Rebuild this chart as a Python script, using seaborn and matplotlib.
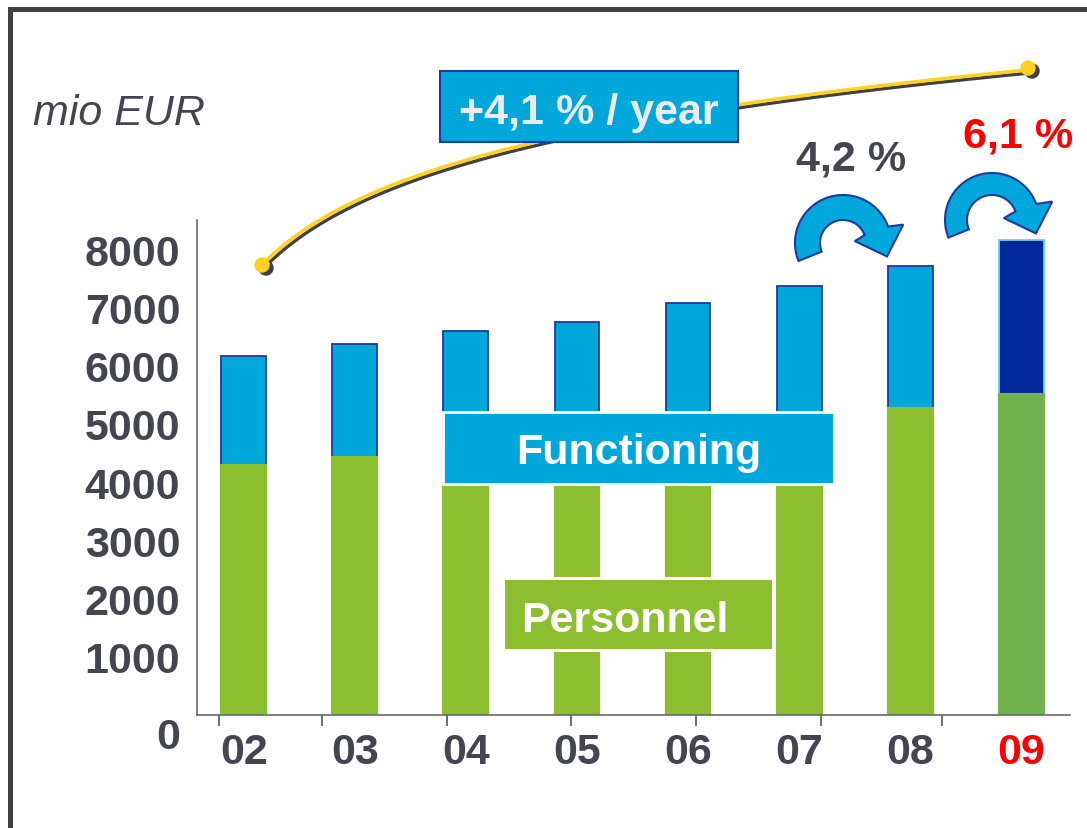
import numpy as np
import pandas as pd
import matplotlib
matplotlib.use("Agg")
import matplotlib.pyplot as plt
import seaborn as sns
from matplotlib.patches import Rectangle, Polygon, Circle
from matplotlib.transforms import ScaledTranslation

# ---------------- data ----------------
years = ["02", "03", "04", "05", "06", "07", "08", "09"]
total = [6160, 6370, 6590, 6750, 7070, 7370, 7710, 8160]
personnel = [4290, 4430, 4600, 4750, 4900, 5050, 5270, 5510]
y_ticks = [0, 1000, 2000, 3000, 4000, 5000, 6000, 7000, 8000]
unit_label = "mio EUR"
trend_label = "+4,1 % / year"
step_labels = ["4,2 %", "6,1 %"]
series_labels = ["Functioning", "Personnel"]

# ---------------- style ----------------
BLUE = "#00A7DB"
DARK_BLUE = "#00289A"
EDGE_BLUE = "#1E3A9E"
GREEN = "#8CBF2F"
GREEN_09 = "#71B24E"
GREY = "#45454F"
RED = "#FF0000"
FS = 31

sns.set_theme(style="white")
plt.rcParams['font.family'] = ['Liberation Sans', 'DejaVu Sans']

fig = plt.figure(figsize=(10.87, 8.29), dpi=100)
ax = fig.add_axes([0.1812, 0.1363, 0.8031, 0.597])

df = pd.DataFrame({"year": years, "total": total, "personnel": personnel})
blue_pal = {y: BLUE for y in years}
blue_pal[years[-1]] = DARK_BLUE
green_pal = {y: GREEN for y in years}
green_pal[years[-1]] = GREEN_09

sns.barplot(data=df, x="year", y="total", hue="year", palette=blue_pal,
            width=0.405, legend=False, ax=ax, saturation=1,
            edgecolor=EDGE_BLUE, linewidth=1.3)
sns.barplot(data=df, x="year", y="personnel", hue="year", palette=green_pal,
            width=0.405, legend=False, ax=ax, saturation=1, linewidth=1.6)

# green segments: edge same as fill so the blue outline does not show
for cont in ax.containers[len(years):]:
    for p in cont.patches:
        p.set_edgecolor(p.get_facecolor())
# last blue bar has a light edge
ax.containers[len(years) - 1].patches[0].set_edgecolor("#6CCBEF")

ax.set_xlim(-0.423, 7.44)
ax.set_ylim(0, 8500)
ax.set_xlabel("")
ax.set_ylabel("")
for s in ["top", "right"]:
    ax.spines[s].set_visible(False)
for s in ["left", "bottom"]:
    ax.spines[s].set_color("#6A6A6A")
    ax.spines[s].set_linewidth(1.2)

ax.set_yticks(y_ticks)
ax.set_yticklabels([str(v) for v in y_ticks], fontsize=FS, fontweight="bold", color=GREY)
ax.tick_params(axis="y", length=0, pad=12, left=False)
ylabels = ax.get_yticklabels()
ylabels[0].set_transform(ylabels[0].get_transform() +
                         ScaledTranslation(0, -0.17, fig.dpi_scale_trans))

ax.set_xticks(range(len(years)))
ax.set_xticklabels(years, fontsize=FS, fontweight="bold", color=GREY)
ax.get_xticklabels()[-1].set_color(RED)
ax.tick_params(axis="x", which="major", length=0, pad=12)
ax.set_xticks([-0.225, 0.70, 1.83, 2.95, 4.07, 5.20, 6.29], minor=True)
ax.tick_params(axis="x", which="minor", bottom=True, length=8, width=1.2,
               color="#555555", direction="out")

# ---------------- overlay in pixel coords ----------------
ov = fig.add_axes([0, 0, 1, 1])
ov.set_xlim(0, 1087)
ov.set_ylim(829, 0)
ov.axis("off")
ov.patch.set_alpha(0)
ov.set_zorder(5)

# frame
ov.plot([10, 10], [840, 10], color="#404040", lw=3.6, solid_capstyle="projecting")
ov.plot([10, 1100], [10, 10], color="#404040", lw=3.6, solid_capstyle="projecting")

# unit label
ov.text(33, 125, unit_label, fontsize=FS, fontstyle="italic", color=GREY,
        ha="left", va="baseline")

# trend curve
xs = np.linspace(262, 1028, 300)
ys = 266 - 82.7 * np.log(1 + (xs - 262) / 80)
ov.plot(xs + 2, ys + 3, color="#3F3F46", lw=2.4, solid_capstyle="round")
ov.plot(xs, ys, color="#FFD21F", lw=2.6, solid_capstyle="round")
for (px, py) in [(262, 266), (1028, 69)]:
    ov.add_patch(Circle((px + 4, py + 3), 7, color="#3F3F46", zorder=3))
    ov.add_patch(Circle((px, py), 7, color="#FFD21F", zorder=4))

# trend box
ov.add_patch(Rectangle((440, 72), 298, 71, facecolor=BLUE, edgecolor=EDGE_BLUE,
                       lw=1.5, zorder=6))
ov.text(589, 124, trend_label, fontsize=FS, fontweight="bold", color="#EBEBEB",
        ha="center", va="baseline", zorder=7)

# series label boxes
ov.add_patch(Rectangle((443, 413), 391, 72, facecolor=BLUE, edgecolor="white",
                       lw=2, zorder=6))
ov.text(639, 464, series_labels[0], fontsize=FS, fontweight="bold", color="white",
        ha="center", va="baseline", zorder=7)
ov.add_patch(Rectangle((503, 579), 270, 72, facecolor=GREEN, edgecolor="white",
                       lw=2.2, zorder=6))
ov.text(625, 632, series_labels[1], fontsize=FS, fontweight="bold", color="white",
        ha="center", va="baseline", zorder=7)


# curved block arrows
def block_arrow(cx, cy, R, r):
    a = np.radians(np.linspace(202, 20, 80))
    outer = np.column_stack([cx + R * np.cos(a), cy - R * np.sin(a)])
    inner = np.column_stack([cx + r * np.cos(a[::-1]), cy - r * np.sin(a[::-1])])

    def pol(rad, deg):
        t = np.radians(deg)
        return [cx + rad * np.cos(t), cy - rad * np.sin(t)]
    head = np.array([pol(63, 17), pol(46, -17), pol(12, 9)])
    pts = np.vstack([outer, head, inner])
    ov.add_patch(Polygon(pts, closed=True, facecolor=BLUE, edgecolor=EDGE_BLUE,
                         lw=1.5, zorder=6))


block_arrow(843, 244, 48, 23)
block_arrow(992, 221, 47, 25)

ov.text(851, 170, step_labels[0], fontsize=FS, fontweight="bold", color=GREY,
        ha="center", va="baseline")
ov.text(1018, 147, step_labels[1], fontsize=FS, fontweight="bold", color=RED,
        ha="center", va="baseline")

fig.savefig("out.png", dpi=100)
